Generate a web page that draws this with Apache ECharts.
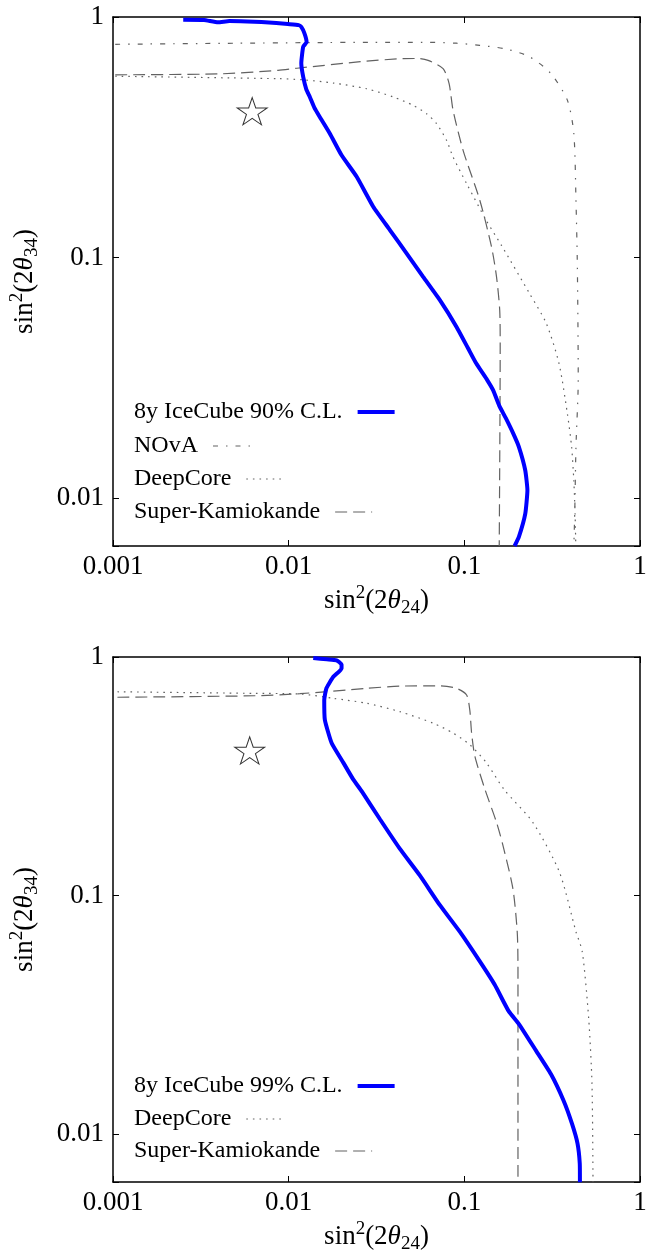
<!DOCTYPE html>
<html>
<head>
<meta charset="utf-8">
<script src="https://cdn.jsdelivr.net/npm/echarts@6/dist/echarts.min.js"></script>
<style>
html,body{margin:0;padding:0;background:#fff;}
#chart{width:665px;height:1255px;}
</style>
</head>
<body>
<div id="chart"></div>
<script>
// ---------- tick labels ----------
const xTickLabels = ['0.001', '0.01', '0.1', '1'];   // exponents -3 .. 0
const yTickLabels = ['0.01', '0.1', '1'];            // exponents -2 .. 0
const xMinExp = -3, yMinExp = -2;
const xMin = 0.001, xMax = 1;
const yMin = Math.pow(10, -2.2), yMax = 1;

// ---------- legend names ----------
const nameIC90 = '8y IceCube 90% C.L.';
const nameIC99 = '8y IceCube 99% C.L.';
const nameNOvA = 'NOvA';
const nameDC = 'DeepCore';
const nameSK = 'Super-Kamiokande';

// ---------- top panel (90% C.L.) : [sin^2(2θ24), sin^2(2θ34)] ----------
const ic90 = [
  [0.00251,0.975],[0.0033,0.972],[0.00396,0.950],[0.0046,0.962],[0.0058,0.958],[0.0070,0.953],
  [0.0085,0.945],[0.0099,0.935],[0.0114,0.925],[0.0118,0.91],[0.0123,0.855],[0.01265,0.787],
  [0.0121,0.752],[0.0118,0.642],[0.0121,0.563],[0.0126,0.50],[0.0132,0.465],[0.0140,0.42],
  [0.01507,0.383],[0.01718,0.327],[0.02002,0.266],[0.0244,0.2165],[0.0303,0.1625],[0.0377,0.130],
  [0.0469,0.104],[0.0583,0.083],[0.0726,0.0664],[0.0903,0.0514],[0.1052,0.0418],[0.117,0.0362],
  [0.135,0.0309],[0.146,0.028],[0.158,0.0242],[0.172,0.0215],[0.190,0.0185],[0.2044,0.0163],
  [0.2223,0.0130],[0.2286,0.01076],[0.2223,0.0086],[0.2044,0.00688],[0.1933,0.00631]
];
const nova90 = [
  [0.00103,0.770],[0.005,0.778],[0.01245,0.782],[0.03,0.785],[0.0588,0.785],[0.09,0.778],
  [0.1225,0.762],[0.17,0.738],[0.2348,0.684],[0.31,0.583],[0.386,0.451],[0.42,0.328],
  [0.432,0.173],[0.44,0.0914],[0.445,0.0309],[0.432,0.0163],[0.425,0.0086],[0.42,0.0063]
];
const dc90 = [
  [0.00103,0.567],[0.0087,0.554],[0.0121,0.548],[0.018,0.531],[0.0278,0.503],[0.0394,0.465],
  [0.0512,0.429],[0.061,0.396],[0.0695,0.36],[0.0792,0.307],[0.0863,0.2615],[0.103,0.203],
  [0.133,0.143],[0.163,0.112],[0.235,0.0708],[0.293,0.0531],[0.346,0.0362],[0.386,0.0224],
  [0.408,0.0163],[0.42,0.0118],[0.427,0.0086],[0.431,0.0063]
];
const sk90 = [
  [0.00103,0.575],[0.004,0.58],[0.0087,0.60],[0.01114,0.612],[0.0256,0.652],[0.0446,0.671],
  [0.055,0.672],[0.0622,0.66],[0.0757,0.61],[0.0819,0.528],[0.0863,0.409],[0.0984,0.279],
  [0.1225,0.173],[0.1428,0.1107],[0.1525,0.083],[0.159,0.0604],[0.160,0.0425],[0.158,0.0063]
];
const star90 = [[0.0062, 0.40]];

// ---------- bottom panel (99% C.L.) ----------
const ic99 = [
  [0.0138,0.99],[0.0165,0.978],[0.01875,0.969],[0.0200,0.93],[0.0200,0.895],[0.01795,0.826],
  [0.0164,0.739],[0.01594,0.66],[0.01607,0.545],[0.01756,0.436],[0.0205,0.36],[0.0233,0.307],
  [0.0262,0.272],[0.0331,0.209],[0.043,0.157],[0.0558,0.1215],[0.0726,0.0912],[0.0942,0.0706],
  [0.1225,0.053],[0.149,0.0423],[0.1788,0.0328],[0.205,0.0289],[0.2564,0.02236],[0.311,0.01788],
  [0.367,0.01385],[0.41,0.01107],[0.441,0.00914],[0.454,0.00755],[0.455,0.0063]
];
const dc99 = [
  [0.00106,0.715],[0.0064,0.704],[0.0116,0.70],[0.01795,0.671],[0.0278,0.64],[0.043,0.59],
  [0.0665,0.528],[0.0863,0.48],[0.1074,0.429],[0.1337,0.36],[0.168,0.279],[0.245,0.203],
  [0.3477,0.1255],[0.432,0.0706],[0.469,0.0583],[0.51,0.0308],[0.533,0.01624],[0.54,0.0063]
];
const sk99 = [
  [0.00106,0.678],[0.0064,0.688],[0.0116,0.702],[0.0278,0.739],[0.043,0.755],[0.0726,0.757],
  [0.0903,0.739],[0.103,0.693],[0.1074,0.6],[0.11,0.48],[0.1148,0.384],[0.131,0.279],
  [0.1524,0.203],[0.166,0.162],[0.189,0.107],[0.2,0.0706],[0.202,0.05],[0.202,0.0063]
];
const star99 = [[0.0060, 0.40]];

// ---------- styling ----------
const F = 'Liberation Serif';
const GRAY = '#626262';
const BLUE = '#0000ff';
const dashDot = [5, 8, 1.5, 8];
const dotted = [1.6, 5];
const dashed = [12, 6];
const starPath = 'path://M50,0L61.23,34.55L97.55,34.55L68.17,55.9L79.39,90.45L50,69.1L20.61,90.45L31.83,55.9L2.45,34.55L38.77,34.55Z';

function logLabel(labels, minExp) {
  return function (v) {
    const l = Math.log10(v);
    const e = Math.round(l);
    if (Math.abs(l - e) > 1e-6) return '';
    return labels[e - minExp] || '';
  };
}

const nameRich = {
  n:   {fontFamily: F, fontSize: 27, lineHeight: 34, color: '#000'},
  i:   {fontFamily: F, fontSize: 27, lineHeight: 34, color: '#000', fontStyle: 'italic'},
  sup: {fontFamily: F, fontSize: 19, lineHeight: 19, color: '#000', verticalAlign: 'top'},
  sub: {fontFamily: F, fontSize: 19, lineHeight: 19, color: '#000', verticalAlign: 'bottom'}
};

function xAxis(gi, pos, main) {
  return {
    type: 'log', logBase: 10, gridIndex: gi, position: pos, min: xMin, max: xMax,
    axisLine: {show: true, onZero: false, lineStyle: {color: '#000', width: 1.5}},
    axisTick: {show: true, inside: true, length: 6, lineStyle: {color: '#000', width: 1}},
    minorTick: {show: false}, splitLine: {show: false}, minorSplitLine: {show: false},
    axisLabel: {show: main, margin: 7, fontFamily: F, fontSize: 27, color: '#000',
      showMinLabel: true, showMaxLabel: true, formatter: logLabel(xTickLabels, xMinExp)},
    name: main ? '{n|sin}{sup|2}{n|(2}{i|θ}{sub|24}{n|)}' : '',
    nameLocation: 'middle', nameGap: 38,
    nameTextStyle: {rich: nameRich}
  };
}
function yAxis(gi, pos, main) {
  return {
    type: 'log', logBase: 10, gridIndex: gi, position: pos, min: yMin, max: yMax,
    axisLine: {show: true, onZero: false, lineStyle: {color: '#000', width: 1.5}},
    axisTick: {show: true, inside: true, length: 6, lineStyle: {color: '#000', width: 1}},
    minorTick: {show: false}, splitLine: {show: false}, minorSplitLine: {show: false},
    axisLabel: {show: main, margin: 9, fontFamily: F, fontSize: 27, color: '#000',
      showMinLabel: true, showMaxLabel: true, formatter: logLabel(yTickLabels, yMinExp)},
    name: main ? '{n|sin}{sup|2}{n|(2}{i|θ}{sub|34}{n|)}' : '',
    nameLocation: 'middle', nameGap: 71,
    nameTextStyle: {rich: nameRich}
  };
}

function lineSeries(name, data, xi, yi, color, width, type, z, smooth) {
  return {
    type: 'line', name: name, data: data, xAxisIndex: xi, yAxisIndex: yi,
    symbol: 'none', smooth: smooth, clip: true, z: z,
    lineStyle: {color: color, width: width, type: type},
    itemStyle: {color: color},
    emphasis: {disabled: true}, silent: true
  };
}
function starSeries(data, xi, yi) {
  return {
    type: 'scatter', data: data, xAxisIndex: xi, yAxisIndex: yi,
    symbol: starPath, symbolSize: [30, 28.6], symbolKeepAspect: true, symbolOffset: [0, -1.5],
    itemStyle: {color: 'rgba(0,0,0,0)', borderColor: '#000', borderWidth: 1},
    z: 5, silent: true
  };
}

const legendText = {fontFamily: F, fontSize: 24, lineHeight: 24, color: '#000', padding: [0, 10, 0, 0]};
function legendRow(name, top, width) {
  return {
    data: [name], left: 134, top: top, orient: 'horizontal', align: 'right', padding: 0,
    itemWidth: 37, itemHeight: 2, selectedMode: false,
    textStyle: legendText,
    lineStyle: {width: width},
    itemStyle: {opacity: 0, borderWidth: 0}
  };
}

const option = {
  animation: false,
  backgroundColor: '#fff',
  grid: [
    {left: 113, top: 17, width: 527, height: 529, containLabel: false},
    {left: 113, top: 657, width: 527, height: 529, containLabel: false}
  ],
  xAxis: [xAxis(0, 'bottom', true), xAxis(0, 'top', false), xAxis(1, 'bottom', true), xAxis(1, 'top', false)],
  yAxis: [yAxis(0, 'left', true), yAxis(0, 'right', false), yAxis(1, 'left', true), yAxis(1, 'right', false)],
  legend: [
    legendRow(nameIC90, 400, 4),
    legendRow(nameNOvA, 434, 1.2),
    legendRow(nameDC, 467, 1.2),
    legendRow(nameSK, 500, 1.2),
    legendRow(nameIC99, 1074, 4),
    legendRow(nameDC, 1107, 1.2),
    legendRow(nameSK, 1139, 1.2)
  ],
  series: [
    lineSeries(nameNOvA, nova90, 0, 0, GRAY, 1.2, dashDot, 2, 0.25),
    lineSeries(nameDC, dc90, 0, 0, GRAY, 1.2, dotted, 2, 0.25),
    lineSeries(nameSK, sk90, 0, 0, GRAY, 1.2, dashed, 2, 0.25),
    lineSeries(nameIC90, ic90, 0, 0, BLUE, 4, 'solid', 3, 0.15),
    starSeries(star90, 0, 0),
    lineSeries(nameDC, dc99, 2, 2, GRAY, 1.2, dotted, 2, 0.25),
    lineSeries(nameSK, sk99, 2, 2, GRAY, 1.2, dashed, 2, 0.25),
    lineSeries(nameIC99, ic99, 2, 2, BLUE, 4, 'solid', 3, 0.15),
    starSeries(star99, 2, 2)
  ]
};

const chart = echarts.init(document.getElementById('chart'), null, {renderer: 'canvas'});
chart.setOption(option);
</script>
</body>
</html>
